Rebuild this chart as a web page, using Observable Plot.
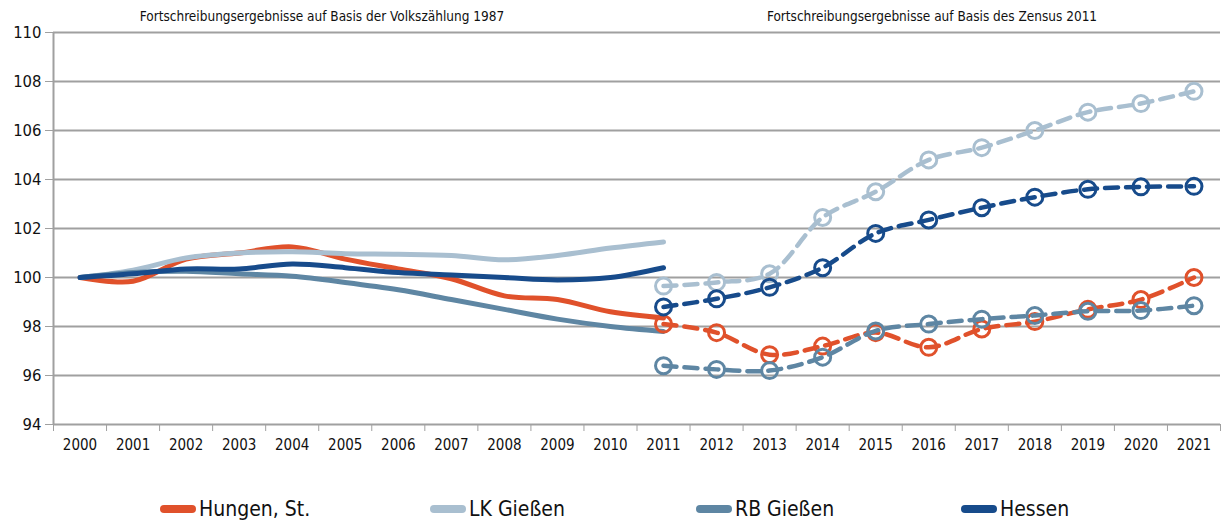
<!DOCTYPE html>
<html><head><meta charset="utf-8">
<script src="https://cdn.jsdelivr.net/npm/d3@7"></script>
<script src="https://cdn.jsdelivr.net/npm/@observablehq/plot@0.6"></script>
<style>
body{margin:0;background:#fff;}
#wrap{position:relative;width:1225px;height:524px;overflow:hidden;font-family:"Liberation Sans Narrow","Arial Narrow","DejaVu Sans Condensed",sans-serif;color:#111;}
.title{position:absolute;top:8px;font-size:13.5px;transform:translateX(-50%);white-space:nowrap;}
.item{position:absolute;top:497px;display:flex;align-items:center;font-size:21px;white-space:nowrap;}
.sw{width:36px;height:8px;border-radius:4px;margin-right:3px;}
svg{position:absolute;left:0;top:0;}
</style></head><body><div id="wrap"></div>
<script>
// ---- data ----
const yearsVZ = [2000,2001,2002,2003,2004,2005,2006,2007,2008,2009,2010,2011];
const yearsZ  = [2011,2012,2013,2014,2015,2016,2017,2018,2019,2020,2021];
const yearLabels = [2000,2001,2002,2003,2004,2005,2006,2007,2008,2009,2010,2011,2012,2013,2014,2015,2016,2017,2018,2019,2020,2021];
const yTicks = [94,96,98,100,102,104,106,108,110];
const seriesNames = ["Hungen, St.", "LK Gießen", "RB Gießen", "Hessen"];
const seriesColors = ["#e0512b", "#a9bfd0", "#5e86a3", "#174b8b"];
const titles = ["Fortschreibungsergebnisse auf Basis der Volkszählung 1987", "Fortschreibungsergebnisse auf Basis des Zensus 2011"];

const hungenVZ = [100, 99.85, 100.75, 101.0, 101.25, 100.75, 100.35, 99.95, 99.25, 99.1, 98.6, 98.35];
const lkVZ     = [100, 100.3, 100.8, 101.0, 101.05, 100.97, 100.95, 100.9, 100.72, 100.9, 101.2, 101.45];
const rbVZ     = [100, 100.2, 100.25, 100.15, 100.05, 99.8, 99.5, 99.1, 98.7, 98.3, 98.0, 97.8];
const hessenVZ = [100, 100.15, 100.35, 100.35, 100.55, 100.4, 100.2, 100.1, 100.0, 99.9, 100.0, 100.4];

const hungenZ = [98.1, 97.75, 96.85, 97.2, 97.75, 97.15, 97.9, 98.2, 98.7, 99.1, 100.0];
const lkZ     = [99.65, 99.8, 100.15, 102.45, 103.5, 104.8, 105.3, 106.0, 106.75, 107.1, 107.6];
const rbZ     = [96.4, 96.25, 96.2, 96.75, 97.82, 98.1, 98.3, 98.45, 98.62, 98.65, 98.85];
const hessenZ = [98.8, 99.13, 99.6, 100.4, 101.8, 102.35, 102.85, 103.28, 103.6, 103.7, 103.72];

// ---- build tables ----
const vz = [hungenVZ, lkVZ, rbVZ, hessenVZ];
const zs = [hungenZ, lkZ, rbZ, hessenZ];
const solid = [], dashed = [];
seriesNames.forEach((s, k) => {
  yearsVZ.forEach((yr, i) => solid.push({series: s, year: yr, value: vz[k][i]}));
  yearsZ.forEach((yr, i) => dashed.push({series: s, year: yr, value: zs[k][i]}));
});
const boundaries = yearLabels.map(y => y - 0.5).concat([yearLabels[yearLabels.length-1] + 0.5]);

const colorScale = {domain: seriesNames, range: seriesColors};
const gridColor = "#a0a0a0";

const marks = [
  Plot.ruleY(yTicks, {stroke: gridColor, strokeWidth: 2}),
  Plot.ruleX([boundaries[0]], {stroke: gridColor, strokeWidth: 2}),
  Plot.axisY({ticks: yTicks, label: null, tickSize: 8, tickPadding: 4, stroke: gridColor, fontSize: 16.5, tickFormat: d => String(d)}),
  Plot.axisX({ticks: boundaries, label: null, tickSize: 7, tickFormat: () => "", stroke: gridColor}),
  Plot.axisX({ticks: yearLabels, label: null, tickSize: 0, tickPadding: 15, fontSize: 15, tickFormat: d => String(d)}),
];
seriesNames.forEach(s => {
  marks.push(Plot.line(solid.filter(d => d.series === s), {x: "year", y: "value", stroke: "series", strokeWidth: 5, curve: "catmull-rom", strokeLinecap: "round"}));
});
seriesNames.forEach(s => {
  const data = dashed.filter(d => d.series === s);
  marks.push(Plot.line(data, {x: "year", y: "value", stroke: "series", strokeWidth: 4.5, strokeDasharray: "13,8", curve: "catmull-rom"}));
  marks.push(Plot.dot(data, {x: "year", y: "value", stroke: "series", r: 8, strokeWidth: 3, fill: "none"}));
});

const chart = Plot.plot({
  width: 1225,
  height: 470,
  marginTop: 32,
  marginBottom: 46,
  marginLeft: 53,
  marginRight: 5,
  style: {fontFamily: '"Liberation Sans Narrow","Arial Narrow","DejaVu Sans Condensed",sans-serif', color: "#111", background: "#fff"},
  x: {type: "linear", domain: [boundaries[0], boundaries[boundaries.length-1]], axis: null, label: null},
  y: {domain: [94, 110], axis: null, label: null},
  color: colorScale,
  marks
});
const wrap = document.getElementById("wrap");
wrap.appendChild(chart);

// titles
const titleX = [322, 932];
titles.forEach((t, i) => {
  const d = document.createElement("div");
  d.className = "title"; d.style.left = titleX[i] + "px"; d.textContent = t;
  wrap.appendChild(d);
});
// legend
const legendX = [160, 430, 696, 961];
seriesNames.forEach((s, i) => {
  const it = document.createElement("div");
  it.className = "item"; it.style.left = legendX[i] + "px";
  const sw = document.createElement("span"); sw.className = "sw"; sw.style.background = seriesColors[i];
  const lb = document.createElement("span"); lb.textContent = s;
  it.appendChild(sw); it.appendChild(lb);
  wrap.appendChild(it);
});
</script></body></html>
